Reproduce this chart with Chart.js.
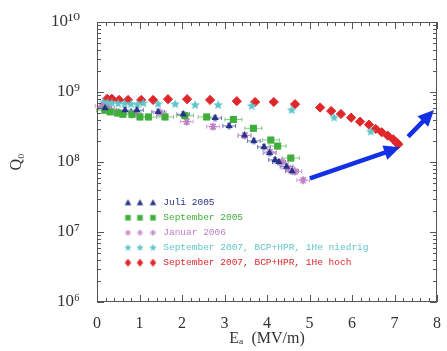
<!DOCTYPE html>
<html><head><meta charset="utf-8">
<script src="https://cdn.jsdelivr.net/npm/chart.js@4.4.1/dist/chart.umd.min.js"></script>
<style>html,body{margin:0;padding:0;background:#fff}#wrap{width:447px;height:351px;position:relative}</style>
</head><body><div id="wrap"><canvas id="c" width="447" height="351"></canvas></div>
<script>
// ---- data (E_acc in MV/m, Q0) ----
const julyX = [0.19, 0.66, 0.94, 1.44, 2.03, 2.78, 3.11, 3.47, 3.69, 3.93, 4.06, 4.19, 4.28, 4.46, 4.59];
const julyQ = [5.9e8, 5.5e8, 5.5e8, 5.2e8, 4.8e8, 4.25e8, 3.27e8, 2.39e8, 2.0e8, 1.64e8, 1.35e8, 1.07e8, 1.0e8, 8.6e7, 7.4e7];
const sep05X = [0.19, 0.31, 0.49, 0.61, 0.82, 1.01, 1.21, 1.60, 2.07, 2.58, 3.21, 3.68, 4.09, 4.25, 4.56];
const sep05Q = [5.5e8, 5.2e8, 5.0e8, 4.8e8, 4.8e8, 4.4e8, 4.4e8, 4.4e8, 4.6e8, 4.4e8, 4.05e8, 3.03e8, 2.06e8, 1.69e8, 1.14e8];
const jan06X = [0.11, 0.26, 0.46, 0.89, 1.48, 2.11, 2.73, 3.48, 4.07, 4.35, 4.50, 4.66, 4.85];
const jan06Q = [6.3e8, 5.9e8, 5.2e8, 5.0e8, 5.1e8, 3.77e8, 3.2e8, 2.4e8, 1.39e8, 1.0e8, 8.1e7, 7.3e7, 5.5e7];
const sep07lowX = [0.15, 0.25, 0.35, 0.5, 0.65, 0.8, 0.95, 1.09, 1.44, 1.84, 2.31, 2.85, 3.64, 4.58, 5.58, 6.44];
const sep07lowQ = [7.1e8, 7.0e8, 6.9e8, 6.8e8, 6.8e8, 6.7e8, 6.6e8, 6.9e8, 6.7e8, 6.7e8, 6.5e8, 6.5e8, 6.3e8, 5.5e8, 4.3e8, 2.71e8];
const sep07highX = [0.24, 0.35, 0.52, 0.73, 1.04, 1.32, 1.67, 2.12, 2.66, 3.29, 3.72, 4.16, 4.66, 5.25, 5.51, 5.74, 5.98, 6.19, 6.40, 6.56, 6.70, 6.84, 6.97, 7.05, 7.09];
const sep07highQ = [8.0e8, 8.0e8, 7.7e8, 7.7e8, 7.7e8, 7.7e8, 7.9e8, 7.9e8, 7.7e8, 7.4e8, 7.2e8, 7.2e8, 6.7e8, 6.0e8, 5.35e8, 4.85e8, 4.3e8, 3.77e8, 3.41e8, 2.96e8, 2.66e8, 2.38e8, 2.11e8, 1.89e8, 1.79e8];
const arrow1X = [5.01, 7.13];
const arrow1Q = [5.85e7, 1.62e8];
const arrow2X = [7.32, 7.93];
const arrow2Q = [2.3e8, 5.53e8];
// error bar half-widths
const julyXErr = 0.15, sep05XErr = 0.2, jan06XErr = 0.15;
const qErrFrac = 0.09;
// tick labels / text
const xTickLabels = ['0','1','2','3','4','5','6','7','8'];
const yTickLabels = ['10\u2076','10\u2077','10\u2078','10\u2079','10\u00B9\u2070'];
const legendLabels = ['Juli 2005','September 2005','Januar 2006','September 2007, BCP+HPR, 1He niedrig','September 2007, BCP+HPR, 1He hoch'];
const xTitle = 'E\u2090  (MV/m)';
const yTitle = 'Q\u2080';

const colors = ['#26338a', '#3fae3a', '#c07cc4', '#5ec6c8', '#e0262a'];
const errColors = ['#6a76b8', '#86c886', '#d6a6d8'];
const arrowColor = '#1230e6';

const serif = "'Liberation Serif', 'DejaVu Serif', serif";

function pts(xs, ys) { return xs.map((x, i) => ({x: x, y: ys[i]})); }

// five-point star image
function starImage(r, color) {
  const c = document.createElement('canvas');
  const s = Math.ceil(r * 2 + 2);
  c.width = s; c.height = s;
  const g = c.getContext('2d');
  drawStar5(g, s / 2, s / 2, r, color);
  return c;
}
function drawStar5(g, cx, cy, r, color) {
  g.beginPath();
  for (let i = 0; i < 10; i++) {
    const a = -Math.PI / 2 + i * Math.PI / 5;
    const rr = i % 2 === 0 ? r : r * 0.45;
    const px = cx + rr * Math.cos(a), py = cy + rr * Math.sin(a);
    if (i === 0) g.moveTo(px, py); else g.lineTo(px, py);
  }
  g.closePath();
  g.fillStyle = color; g.fill();
}
const cyanStar = starImage(5, colors[3]);

// legend icons: three markers each
function legendIcon(idx) {
  const c = document.createElement('canvas');
  c.width = 56; c.height = 12;
  const g = c.getContext('2d');
  const cxs = [25.5, 37.5, 50.5];
  cxs.forEach(cx => {
    const cy = 6, col = colors[idx];
    g.fillStyle = col; g.strokeStyle = col;
    g.beginPath();
    if (idx === 0) { g.moveTo(cx, cy - 3.5); g.lineTo(cx + 3.2, cy + 2.5); g.lineTo(cx - 3.2, cy + 2.5); g.closePath(); g.fill(); }
    else if (idx === 1) { g.rect(cx - 2.8, cy - 2.8, 5.6, 5.6); g.fill(); }
    else if (idx === 2) { g.lineWidth = 1;
      for (let k = 0; k < 4; k++) { const a = k * Math.PI / 4; g.moveTo(cx - 3 * Math.cos(a), cy - 3 * Math.sin(a)); g.lineTo(cx + 3 * Math.cos(a), cy + 3 * Math.sin(a)); }
      g.stroke(); }
    else if (idx === 3) { drawStar5(g, cx, cy, 3.8, col); }
    else { g.moveTo(cx, cy - 4); g.lineTo(cx + 3.2, cy); g.lineTo(cx, cy + 4); g.lineTo(cx - 3.2, cy); g.closePath(); g.fill(); }
  });
  return c;
}
const legendIcons = [0, 1, 2, 3, 4].map(legendIcon);

const frameTicks = {
  id: 'frameTicks',
  afterDraw(chart) {
    const {ctx, chartArea: a, scales} = chart;
    ctx.save();
    ctx.strokeStyle = '#555'; ctx.lineWidth = 1;
    ctx.beginPath();
    ctx.rect(Math.round(a.left) + 0.5, Math.round(a.top) + 0.5, Math.round(a.right - a.left) - 1, Math.round(a.bottom - a.top) - 1);
    ctx.stroke();
    ctx.beginPath();
    scales.x.ticks.forEach(t => {
      const px = Math.round(scales.x.getPixelForValue(t.value)) + 0.5;
      const major = Math.abs(t.value - Math.round(t.value)) < 1e-6;
      const len = major ? 7 : 4;
      ctx.moveTo(px, a.bottom); ctx.lineTo(px, a.bottom - len);
      ctx.moveTo(px, a.top); ctx.lineTo(px, a.top + len);
    });
    scales.y.ticks.forEach(t => {
      const py = Math.round(scales.y.getPixelForValue(t.value)) + 0.5;
      const e = Math.log10(t.value);
      const major = Math.abs(e - Math.round(e)) < 1e-6;
      const len = major ? 7 : 4;
      ctx.moveTo(a.left, py); ctx.lineTo(a.left + len, py);
      ctx.moveTo(a.right, py); ctx.lineTo(a.right - len, py);
    });
    ctx.stroke();
    ctx.restore();
  }
};

const errorBars = {
  id: 'errorBars',
  beforeDatasetsDraw(chart) {
    const {ctx, scales} = chart;
    ctx.save();
    ctx.lineWidth = 1;
    chart.data.datasets.forEach((ds, di) => {
      if (ds.xErr === undefined) return;
      ctx.strokeStyle = ds.errColor;
      ctx.beginPath();
      ds.data.forEach(p => {
        const x0 = scales.x.getPixelForValue(p.x - ds.xErr), x1 = scales.x.getPixelForValue(p.x + ds.xErr);
        const y = scales.y.getPixelForValue(p.y);
        const y0 = scales.y.getPixelForValue(p.y * (1 - qErrFrac)), y1 = scales.y.getPixelForValue(p.y * (1 + qErrFrac));
        const x = scales.x.getPixelForValue(p.x);
        ctx.moveTo(x0, y); ctx.lineTo(x1, y);
        ctx.moveTo(x0, y - 2); ctx.lineTo(x0, y + 2);
        ctx.moveTo(x1, y - 2); ctx.lineTo(x1, y + 2);
        ctx.moveTo(x, y0); ctx.lineTo(x, y1);
        ctx.moveTo(x - 2, y0); ctx.lineTo(x + 2, y0);
        ctx.moveTo(x - 2, y1); ctx.lineTo(x + 2, y1);
      });
      ctx.stroke();
    });
    ctx.restore();
  }
};

const arrows = {
  id: 'arrows',
  afterDatasetsDraw(chart) {
    const {ctx} = chart;
    chart.data.datasets.forEach((ds, di) => {
      if (!ds.isArrow) return;
      const meta = chart.getDatasetMeta(di);
      const p0 = meta.data[0], p1 = meta.data[1];
      const dx = p1.x - p0.x, dy = p1.y - p0.y, L = Math.hypot(dx, dy);
      const ux = dx / L, uy = dy / L;
      const hl = 16, hw = 7.5;
      const bx = p1.x - ux * hl, by = p1.y - uy * hl;
      ctx.save();
      ctx.strokeStyle = arrowColor; ctx.fillStyle = arrowColor;
      ctx.lineWidth = 4.5;
      ctx.beginPath(); ctx.moveTo(p0.x, p0.y); ctx.lineTo(bx + ux * 3, by + uy * 3); ctx.stroke();
      ctx.beginPath(); ctx.moveTo(p1.x, p1.y);
      ctx.lineTo(bx - uy * hw, by + ux * hw); ctx.lineTo(bx + uy * hw, by - ux * hw);
      ctx.closePath(); ctx.fill();
      ctx.restore();
    });
  }
};

const legendLift = {
  id: 'legendLift',
  afterLayout(chart) { if (chart.legend) chart.legend.bottom = chart.chartArea.bottom - 29; }
};

new Chart(document.getElementById('c'), {
  type: 'scatter',
  data: {
    datasets: [
      {label: legendLabels[0], data: pts(julyX, julyQ), pointStyle: 'triangle', pointRadius: 4.2, backgroundColor: colors[0], borderColor: colors[0], borderWidth: 0, xErr: julyXErr, errColor: errColors[0]},
      {label: legendLabels[1], data: pts(sep05X, sep05Q), pointStyle: 'rect', pointRadius: 5, backgroundColor: colors[1], borderColor: colors[1], borderWidth: 0, xErr: sep05XErr, errColor: errColors[1]},
      {label: legendLabels[2], data: pts(jan06X, jan06Q), pointStyle: 'star', pointRadius: 4, backgroundColor: colors[2], borderColor: colors[2], borderWidth: 1.3, xErr: jan06XErr, errColor: errColors[2]},
      {label: legendLabels[3], data: pts(sep07lowX, sep07lowQ), pointStyle: cyanStar, pointRadius: 5, backgroundColor: colors[3], borderColor: colors[3]},
      {label: legendLabels[4], data: pts(sep07highX, sep07highQ), pointStyle: 'rectRot', pointRadius: 4.6, backgroundColor: colors[4], borderColor: colors[4], borderWidth: 1},
      {label: 'arrow1', data: pts(arrow1X, arrow1Q), isArrow: true, pointRadius: 0, showLine: false},
      {label: 'arrow2', data: pts(arrow2X, arrow2Q), isArrow: true, pointRadius: 0, showLine: false}
    ]
  },
  options: {
    responsive: false,
    animation: false,
    devicePixelRatio: 1,
    layout: {padding: {top: 22, right: 10, left: 0, bottom: 0}},
    plugins: {
      tooltip: {enabled: false},
      legend: {
        position: 'chartArea',
        align: 'end',
        labels: {
          usePointStyle: true,
          pointStyleWidth: 56,
          padding: 5.5,
          font: {family: "'Liberation Mono', 'DejaVu Sans Mono', monospace", size: 9.5},
          generateLabels: () => legendLabels.map((t, i) => ({
            text: t, fontColor: colors[i], pointStyle: legendIcons[i], datasetIndex: i,
            fillStyle: 'rgba(0,0,0,0)', strokeStyle: 'rgba(0,0,0,0)', lineWidth: 0, hidden: false
          }))
        }
      }
    },
    scales: {
      x: {
        type: 'linear', min: 0, max: 8,
        afterBuildTicks: s => { const t = []; for (let k = 0; k <= 40; k++) t.push({value: k * 0.2}); s.ticks = t; },
        afterFit: s => { s.height = 49; },
        grid: {display: false}, border: {display: false},
        ticks: {
          autoSkip: false, maxRotation: 0, padding: 4, color: '#333',
          font: {family: serif, size: 16},
          callback: v => Math.abs(v - Math.round(v)) < 1e-6 ? xTickLabels[Math.round(v)] : ''
        },
        title: {display: true, text: xTitle, color: '#333', font: {family: serif, size: 16}, padding: {top: 0, bottom: 3}}
      },
      y: {
        type: 'logarithmic', min: 1e6, max: 1e10,
        afterBuildTicks: s => { const t = []; for (let e = 6; e < 10; e++) for (let m = 1; m <= 9; m++) t.push({value: m * Math.pow(10, e)}); t.push({value: 1e10}); s.ticks = t; },
        afterFit: s => { s.width = 97; },
        grid: {display: false}, border: {display: false},
        ticks: {
          autoSkip: false, padding: 9, color: '#333',
          font: {family: serif, size: 17},
          callback: v => { const e = Math.log10(v); const r = Math.round(e); return Math.abs(e - r) < 1e-6 ? yTickLabels[r - 6] : ''; }
        },
        title: {display: true, text: yTitle, color: '#333', font: {family: serif, size: 16}, padding: {top: 7, bottom: 0}}
      }
    }
  },
  plugins: [errorBars, arrows, frameTicks, legendLift]
});
</script>
</body></html>
